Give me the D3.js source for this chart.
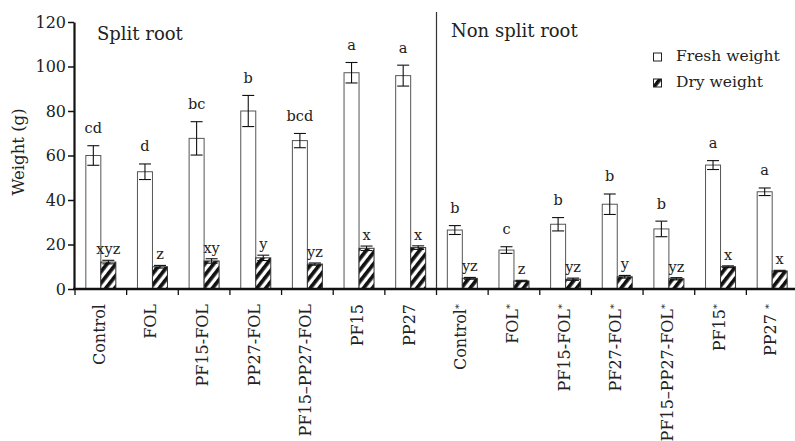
<!DOCTYPE html>
<html><head><meta charset="utf-8">
<script src="https://cdn.jsdelivr.net/npm/d3@7"></script>
<style>body{margin:0;background:#fff}svg{display:block}svg text{font-family:'DejaVu Serif';fill:#222}</style>
</head><body><svg id="c" width="795" height="441"></svg>
<script>
const categories = ["Control","FOL","PF15-FOL","PP27-FOL","PF15\u2013PP27-FOL","PF15","PP27",
  "Control","FOL","PF15-FOL","PF27-FOL","PF15\u2013PP27-FOL","PF15","PP27 "];
const starred = [false,false,false,false,false,false,false,true,true,true,true,true,true,true];
const freshValues = [60,52.7,67.7,80,66.7,97.2,95.9, 26.5,17.5,29.1,38.1,27,55.7,43.7];
const freshErrors = [4.4,3.5,7.5,7,3.2,4.6,4.7, 2,1.5,3,4.6,3.5,2,1.7];
const freshLetters = ["cd","d","bc","b","bcd","a","a","b","c","b","b","b","a","a"];
const dryValues = [12.1,10,12.6,14,11.2,18.3,18.6, 4.8,3.6,4.4,5.5,4.6,10,8.1];
const dryErrors = [0.8,0.6,1,1.2,0.5,1,0.8, 0.4,0.3,0.5,0.6,0.5,0.4,0.3];
const dryLetters = ["xyz","z","xy","y","yz","x","x","yz","z","yz","y","yz","x","x"];
const yTicks = [0,20,40,60,80,100,120];
const groupTitles = ["Split root","Non split root"];
const legendLabels = ["Fresh weight","Dry weight"];

const FONT = "DejaVu Serif";
const svg = d3.select("#c").attr("font-family",FONT);
const ids = categories.map((c,i)=>i);
const x = d3.scaleBand().domain(ids).range([75,798]).padding(0);
const y = d3.scaleLinear().domain([0,120]).range([289,22]);
const bw = 15;

const defs = svg.append("defs");
const pat = defs.append("pattern").attr("id","hatch").attr("patternUnits","userSpaceOnUse")
  .attr("width",7).attr("height",7).attr("patternTransform","rotate(38)");
pat.append("rect").attr("width",7).attr("height",7).attr("fill","#fff");
pat.append("rect").attr("width",3.7).attr("height",7).attr("fill","#111");

svg.append("line").attr("x1",x(7)).attr("x2",x(7)).attr("y1",12).attr("y2",y(0))
  .attr("stroke","#333").attr("stroke-width",1.2);

const g = svg.append("g");
ids.forEach(i=>{
  const cx = x(i)+x.bandwidth()/2;
  g.append("rect").attr("x",cx-bw).attr("y",y(freshValues[i])).attr("width",bw)
    .attr("height",y(0)-y(freshValues[i])).attr("fill","#fff").attr("stroke","#555").attr("stroke-width",1);
  g.append("rect").attr("x",cx).attr("y",y(dryValues[i])).attr("width",bw)
    .attr("height",y(0)-y(dryValues[i])).attr("fill","url(#hatch)").attr("stroke","#333").attr("stroke-width",1);
  [[cx-bw/2,freshValues[i],freshErrors[i],freshLetters[i],12.5],[cx+bw/2,dryValues[i],dryErrors[i],dryLetters[i],6]].forEach(([bx,v,e,l,gap])=>{
    const eb = g.append("g").attr("stroke","#111").attr("stroke-width",1.1);
    eb.append("line").attr("x1",bx).attr("x2",bx).attr("y1",y(v+e)).attr("y2",y(v-e));
    eb.append("line").attr("x1",bx-6).attr("x2",bx+6).attr("y1",y(v+e)).attr("y2",y(v+e));
    eb.append("line").attr("x1",bx-6).attr("x2",bx+6).attr("y1",y(v-e)).attr("y2",y(v-e));
    g.append("text").attr("x",bx).attr("y",y(v+e)-gap).attr("text-anchor","middle")
      .attr("font-size",14.5).text(l);
  });
});

const ya = svg.append("g").attr("transform","translate(74,0)")
  .call(d3.axisLeft(y).tickValues(yTicks).tickSize(6).tickSizeOuter(0).tickPadding(2));
ya.attr("font-family",FONT);
ya.select(".domain").attr("stroke","#111").attr("stroke-width",2.2);
ya.selectAll(".tick line").attr("stroke","#111").attr("stroke-width",1.5);
ya.selectAll(".tick text").attr("font-size",16).attr("fill","#222");

const xa = svg.append("g").attr("transform",`translate(0,${y(0)})`);
xa.append("line").attr("x1",73).attr("x2",798).attr("stroke","#111").attr("stroke-width",2.4);
const bounds = ids.map(i=>x(i)).concat([x(13)+x.bandwidth()]);
xa.selectAll("line.t").data(bounds).join("line").attr("class","t")
  .attr("x1",d=>d).attr("x2",d=>d).attr("y1",0).attr("y2",6).attr("stroke","#111").attr("stroke-width",1.3);
const lab = xa.selectAll("text.l").data(ids).join("text").attr("class","l")
  .attr("transform",i=>`translate(${x(i)+x.bandwidth()/2},15) rotate(-90)`)
  .attr("text-anchor","end").attr("dy","0.25em").attr("font-size",16);
lab.append("tspan").text(i=>categories[i]);
lab.filter(i=>starred[i]).append("tspan").attr("dy","-0.45em").attr("font-size",10).text("*");

svg.append("text").attr("transform","translate(24,152) rotate(-90)").attr("text-anchor","middle")
  .attr("font-size",16.5).text("Weight (g)");

svg.append("text").attr("x",97).attr("y",40).attr("font-size",18).text(groupTitles[0]);
svg.append("text").attr("x",451).attr("y",37).attr("font-size",18).text(groupTitles[1]);

const lg = svg.append("g");
legendLabels.forEach((t,i)=>{
  const yy = 61 + i*26;
  lg.append("rect").attr("x",653.5).attr("y",yy-8).attr("width",8).attr("height",8)
    .attr("fill", i===0?"#fff":"url(#hatch)").attr("stroke","#222").attr("stroke-width",1);
  lg.append("text").attr("x",676).attr("y",yy).attr("font-size",15.5).text(t);
});
</script></body></html>
